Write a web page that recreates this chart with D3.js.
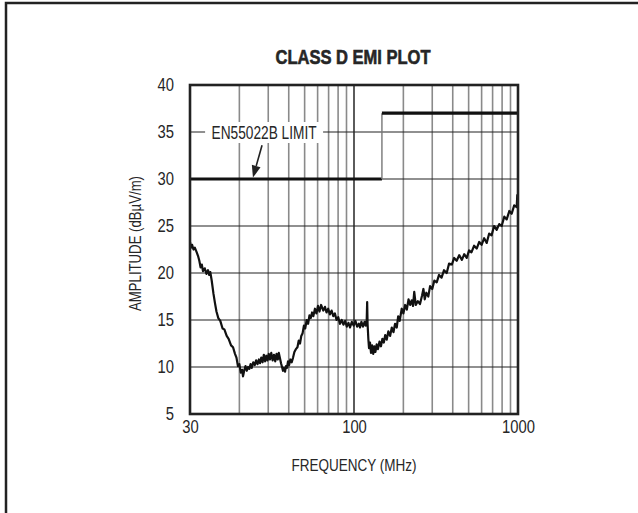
<!DOCTYPE html>
<html>
<head>
<meta charset="utf-8">
<script src="https://cdn.jsdelivr.net/npm/d3@7"></script>
<style>
  body { margin: 0; background: #fff; }
  svg { display: block; }
  text { font-family: "Liberation Sans", Arial, sans-serif; fill: #262626; }
</style>
</head>
<body>
<svg id="chart" width="638" height="513"></svg>
<script>
// values (the frequency grid is a 2-decade log paper, left edge labelled 30)
const yTicks = [5, 10, 15, 20, 25, 30, 35, 40];
const yGrid = [10, 15, 20, 25, 30, 35];
const xTicks = [10, 100, 1000];
const xTickLabels = ['30', '100', '1000'];
const xGrid = [20, 30, 40, 50, 60, 70, 80, 90, 100, 200, 300, 400, 500, 600, 700, 800, 900];

const limitFreq = [10, 148, 148, 1000];
const limitLevel = [30, 30, 37, 37];

// measured emission, read point by point (grid units on the frequency axis)
const traceFreq = [
  10.0, 10.15, 10.3, 10.5, 10.7, 10.99, 11.2, 11.4, 11.6, 11.8, 12.0, 12.3, 12.6, 12.88, 13.1, 13.3, 13.56,
  13.9, 14.2, 14.5, 14.88, 15.3, 15.8, 16.2, 16.74, 17.2, 17.8, 18.3, 18.81, 19.2, 19.6, 20.0, 20.4, 20.8,
  21.05, 21.4, 21.8, 22.2, 22.6, 23.0, 23.4, 23.78, 24.3, 24.8, 25.3, 25.8, 26.3, 26.72, 27.2, 27.7, 28.2,
  28.7, 29.2, 29.7, 30.2, 30.74, 31.3, 31.9, 32.5, 33.1, 33.7, 34.3, 34.8, 35.39, 35.9, 36.4, 36.9, 37.4,
  37.96, 38.5, 39.0, 39.6, 40.2, 40.9, 41.71, 42.5, 43.3, 44.2, 45.2, 46.0, 46.85, 47.7, 48.6, 49.5, 50.4,
  51.47, 52.5, 53.5, 54.5, 55.5, 56.47, 57.8, 59.0, 60.3, 61.6, 63.0, 64.98, 66.5, 68.0, 69.6, 71.3, 73.0,
  74.77, 76.5, 78.3, 80.2, 82.1, 84.14, 86.2, 88.3, 90.4, 92.5, 94.54, 97.0, 99.5, 102, 104.5, 107, 108.8,
  111, 113.5, 116, 118, 119.5, 120.3, 121.0, 122.3, 123.5, 125.2, 127, 129, 131, 133, 135, 137.5, 140, 143,
  146, 149, 152, 155, 158.3, 162, 166, 170, 174, 178, 182.2, 186, 190, 195.4, 200, 205, 210, 215, 220, 224.8,
  229, 233, 238, 245, 252.6, 260, 265, 270, 276, 283.8, 291, 300, 309, 319.4, 330, 342, 354, 367.5, 380, 395,
  408, 422.9, 438, 455, 470, 486.7, 503, 520, 540, 560.1, 580, 600, 622, 644.5, 667, 690, 715, 741.7, 768,
  795, 825, 853.4, 885, 915, 948, 982, 990, 1000];
const traceLevel = [
  23.3, 22.7, 23.0, 22.5, 22.7, 22.2, 21.8, 21.3, 20.6, 20.9, 20.2, 20.5, 19.9, 20.3, 19.8, 20.1, 19.2,
  17.8, 16.8, 15.9, 15.2, 14.9, 14.1, 14.0, 13.3, 13.0, 12.3, 12.1, 11.4, 11.0, 10.1, 10.3, 9.4, 9.7,
  9.0, 9.6, 10.1, 9.6, 10.0, 9.8, 10.3, 9.9, 10.5, 10.2, 10.7, 10.3, 10.8, 10.4, 11.0, 10.5, 11.3,
  10.6, 11.2, 10.7, 11.4, 10.8, 11.5, 10.7, 11.3, 10.6, 11.4, 10.8, 11.5, 10.9, 10.4, 10.0, 9.6, 9.9,
  9.5, 10.1, 9.9, 10.6, 10.2, 10.8, 10.5, 11.0, 11.6, 11.9, 12.1, 12.8, 12.5, 13.3, 13.6, 14.4, 14.1,
  15.0, 14.6, 15.5, 15.2, 15.8, 15.4, 16.2, 15.7, 16.5, 15.9, 16.6, 16.0, 16.4, 15.8, 16.2, 15.6, 16.0,
  15.4, 15.7, 15.0, 15.3, 14.6, 15.0, 14.5, 14.9, 14.3, 14.7, 14.2, 14.8, 14.4, 14.9, 14.3, 14.6, 14.2,
  14.8, 14.3, 14.8, 14.4, 14.9, 16.9, 14.6, 13.0, 12.0, 12.6, 11.5, 12.3, 11.4, 12.2, 11.6, 12.4, 11.9, 12.7,
  12.2, 13.0, 12.6, 13.4, 12.9, 13.8, 13.3, 14.2, 13.7, 14.6, 14.2, 15.4, 14.9, 16.2, 15.7, 16.6, 16.1, 17.2, 16.6, 17.1,
  16.5, 18.0, 16.6, 17.0, 16.7, 17.6, 18.3, 17.2, 17.9, 17.5, 18.6, 18.3, 19.2, 19.0, 19.8, 19.5, 20.3, 20.0, 21.0, 20.9,
  21.6, 21.3, 21.9, 21.4, 22.0, 21.6, 22.4, 22.2, 22.9, 22.6, 23.3, 23.0, 23.7, 23.2, 24.2, 24.0, 25.0, 24.6, 25.2,
  25.0, 26.0, 25.7, 26.6, 26.3, 27.2, 27.0, 28.3, 27.8];

const svg = d3.select('#chart');

// squeeze text horizontally, the original uses a condensed face
function condense(sel, k) {
  sel.each(function () {
    const len = this.getComputedTextLength();
    d3.select(this).attr('textLength', len * k).attr('lengthAdjust', 'spacingAndGlyphs');
  });
}

// outer frame, running off the right and bottom edges
svg.append('rect')
  .attr('x', 6).attr('y', 3)
  .attr('width', 660).attr('height', 540)
  .attr('fill', 'none').attr('stroke', '#222').attr('stroke-width', 2.5);

const plotLeft = 190, plotRight = 518, plotTop = 85, plotBottom = 414;

const x = d3.scaleLog().domain([10, 1000]).range([plotLeft, plotRight]);
const y = d3.scaleLinear().domain([5, 40]).range([plotBottom, plotTop]);

svg.append('text')
  .attr('x', 353).attr('y', 63.5)
  .attr('text-anchor', 'middle')
  .style('font-weight', 'bold')
  .style('font-size', '19.5px')
  .style('stroke', '#262626').style('stroke-width', 0.6)
  .attr('textLength', 155).attr('lengthAdjust', 'spacingAndGlyphs')
  .text('CLASS D EMI PLOT');

// grid
svg.append('g')
  .selectAll('line')
  .data(xGrid)
  .join('line')
  .attr('x1', d => x(d)).attr('x2', d => x(d))
  .attr('y1', plotTop).attr('y2', plotBottom)
  .attr('stroke', d => (d === 100 ? '#333' : '#8a8a8a'))
  .attr('stroke-width', 1.6);

svg.append('g')
  .selectAll('line')
  .data(yGrid)
  .join('line')
  .attr('x1', plotLeft).attr('x2', plotRight)
  .attr('y1', d => y(d)).attr('y2', d => y(d))
  .attr('stroke', '#222')
  .attr('stroke-width', 1.1);

// label box for the limit line
const labelFreq = 28.3, labelLevel = 35;
svg.append('rect')
  .attr('x', x(labelFreq) - 59).attr('y', y(labelLevel) - 10)
  .attr('width', 118).attr('height', 21)
  .attr('fill', '#fff');
svg.append('text')
  .attr('x', x(labelFreq)).attr('y', y(labelLevel) + 6.5)
  .attr('text-anchor', 'middle')
  .style('font-size', '17.5px')
  .attr('textLength', 105).attr('lengthAdjust', 'spacingAndGlyphs')
  .text('EN55022B LIMIT');

// arrow
const arrowFrom = [27.5, 33.6], arrowTo = [24.2, 30.15];
const ax0 = x(arrowFrom[0]), ay0 = y(arrowFrom[1]);
const ax1 = x(arrowTo[0]), ay1 = y(arrowTo[1]);
const ang = Math.atan2(ay1 - ay0, ax1 - ax0);
const headLen = 12, headW = 4.5;
const bx = ax1 - headLen * Math.cos(ang), by = ay1 - headLen * Math.sin(ang);
svg.append('line')
  .attr('x1', ax0).attr('y1', ay0).attr('x2', bx).attr('y2', by)
  .attr('stroke', '#222').attr('stroke-width', 1.6);
svg.append('path')
  .attr('d', `M${ax1},${ay1}L${bx + headW * Math.sin(ang)},${by - headW * Math.cos(ang)}L${bx - headW * Math.sin(ang)},${by + headW * Math.cos(ang)}Z`)
  .attr('fill', '#222');

// limit line: thick horizontal runs, thin step
const limit = d3.range(limitFreq.length - 1).map(i => ({
  x1: x(limitFreq[i]), x2: x(limitFreq[i + 1]),
  y1: y(limitLevel[i]), y2: y(limitLevel[i + 1]),
  flat: limitLevel[i] === limitLevel[i + 1]
}));
svg.append('g')
  .selectAll('line')
  .data(limit)
  .join('line')
  .attr('x1', d => d.x1).attr('x2', d => d.x2)
  .attr('y1', d => d.y1).attr('y2', d => d.y2)
  .attr('stroke', d => (d.flat ? '#111' : '#777'))
  .attr('stroke-width', d => (d.flat ? 3.2 : 1.4));

// measured trace
const trace = traceFreq.map((f, i) => [f, traceLevel[i]]);
svg.append('path')
  .datum(trace)
  .attr('fill', 'none')
  .attr('stroke', '#111')
  .attr('stroke-width', 2.2)
  .attr('stroke-linejoin', 'round')
  .attr('d', d3.line().x(d => x(d[0])).y(d => y(d[1])));

// plot frame
svg.append('rect')
  .attr('x', plotLeft).attr('y', plotTop)
  .attr('width', plotRight - plotLeft).attr('height', plotBottom - plotTop)
  .attr('fill', 'none').attr('stroke', '#222').attr('stroke-width', 2.6);

// axes
const yAxis = svg.append('g')
  .attr('transform', `translate(${plotLeft},0)`)
  .call(d3.axisLeft(y).tickValues(yTicks).tickSize(0).tickPadding(16));
const xAxis = svg.append('g')
  .attr('transform', `translate(0,${plotBottom})`)
  .call(d3.axisBottom(x).tickValues(xTicks).tickSize(0).tickPadding(6)
    .tickFormat((d, i) => xTickLabels[i]));
[yAxis, xAxis].forEach(g => {
  g.select('.domain').remove();
  g.selectAll('text')
    .attr('font-family', null).attr('font-size', null).attr('fill', null)
    .style('font-size', '18.5px')
    .call(condense, 0.8);
});

svg.append('text')
  .attr('x', 354).attr('y', 471)
  .attr('text-anchor', 'middle')
  .style('font-size', '17px')
  .attr('textLength', 125).attr('lengthAdjust', 'spacingAndGlyphs')
  .text('FREQUENCY (MHz)');

svg.append('text')
  .attr('transform', `translate(141,${(plotTop + plotBottom) / 2 - 6}) rotate(-90)`)
  .attr('text-anchor', 'middle')
  .style('font-size', '17px')
  .attr('textLength', 135).attr('lengthAdjust', 'spacingAndGlyphs')
  .text('AMPLITUDE (dBµV/m)');
</script>
</body>
</html>
